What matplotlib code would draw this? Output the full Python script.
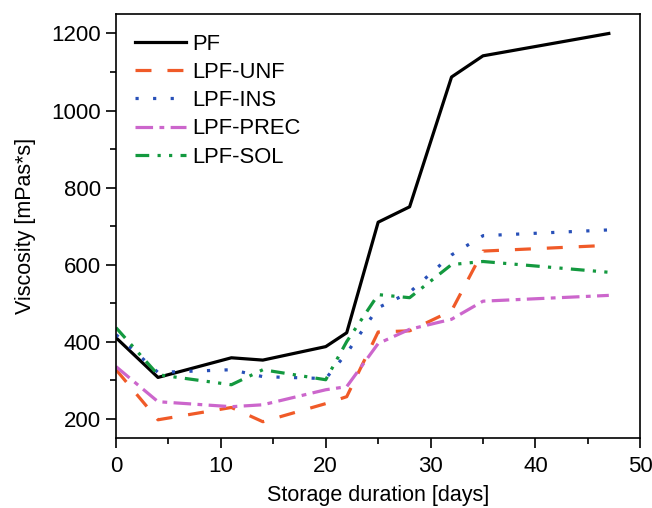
import numpy as np
import matplotlib
matplotlib.use('Agg')
import matplotlib.pyplot as plt
from matplotlib.ticker import MultipleLocator

plt.rcParams['font.family'] = ['Liberation Sans', 'DejaVu Sans']

# storage days shared by all samples
days = [0, 4, 11, 14, 20, 22, 25, 28, 32, 35, 47]

# viscosity [mPas*s]
pf = [410, 307, 358, 352, 387, 423, 710, 750, 1087, 1142, 1200]
lpf_unf = [327, 197, 229, 192, 239, 257, 425, 428, 480, 635, 650]
lpf_ins = [418, 320, 327, 309, 304, 370, 488, 528, 625, 675, 690]
lpf_prec = [335, 244, 231, 236, 275, 283, 395, 432, 458, 505, 520]
lpf_sol = [436, 314, 288, 327, 301, 400, 522, 514, 600, 608, 580]

labels = ['PF', 'LPF-UNF', 'LPF-INS', 'LPF-PREC', 'LPF-SOL']
colors = ['black', '#f05a28', '#2850b8', '#cc66cc', '#13993f']
dash_styles = [None, (5, 5), (1, 4.5), (5.5, 2, 1.5, 2), (4.3, 2.6, 1, 2.6, 1, 2.6)]

fig = plt.figure(figsize=(6.52, 5.08), dpi=100)
ax = fig.add_axes([0.178, 0.138, 0.804, 0.834])

for vals, lab, col, ds in zip([pf, lpf_unf, lpf_ins, lpf_prec, lpf_sol], labels, colors, dash_styles):
	line, = ax.plot(days, vals, color=col, lw=2.3, label=lab)
	if ds is not None:
		line.set_dashes(ds)

ax.set_xlim(0, 50)
ax.set_ylim(150, 1250)
ax.xaxis.set_major_locator(MultipleLocator(10))
ax.xaxis.set_minor_locator(MultipleLocator(5))
ax.yaxis.set_major_locator(MultipleLocator(200))
ax.yaxis.set_minor_locator(MultipleLocator(100))
ax.tick_params(which='major', direction='out', length=7, width=1.2, labelsize=16, pad=4)
ax.tick_params(axis='x', which='major', pad=6)
ax.tick_params(which='minor', direction='out', length=4, width=1.2)
for sp in ax.spines.values():
	sp.set_linewidth(1.2)

ax.set_xlabel('Storage duration [days]', fontsize=15.5, labelpad=6)
ax.set_ylabel('Viscosity [mPas*s]', fontsize=15.5, labelpad=11)

ax.legend(loc='upper left', bbox_to_anchor=(0.02, 0.975), frameon=False, fontsize=15.8,
	handlelength=2.3, handletextpad=0.3, labelspacing=0.33, borderaxespad=0)

fig.savefig('out.png', dpi=100)
